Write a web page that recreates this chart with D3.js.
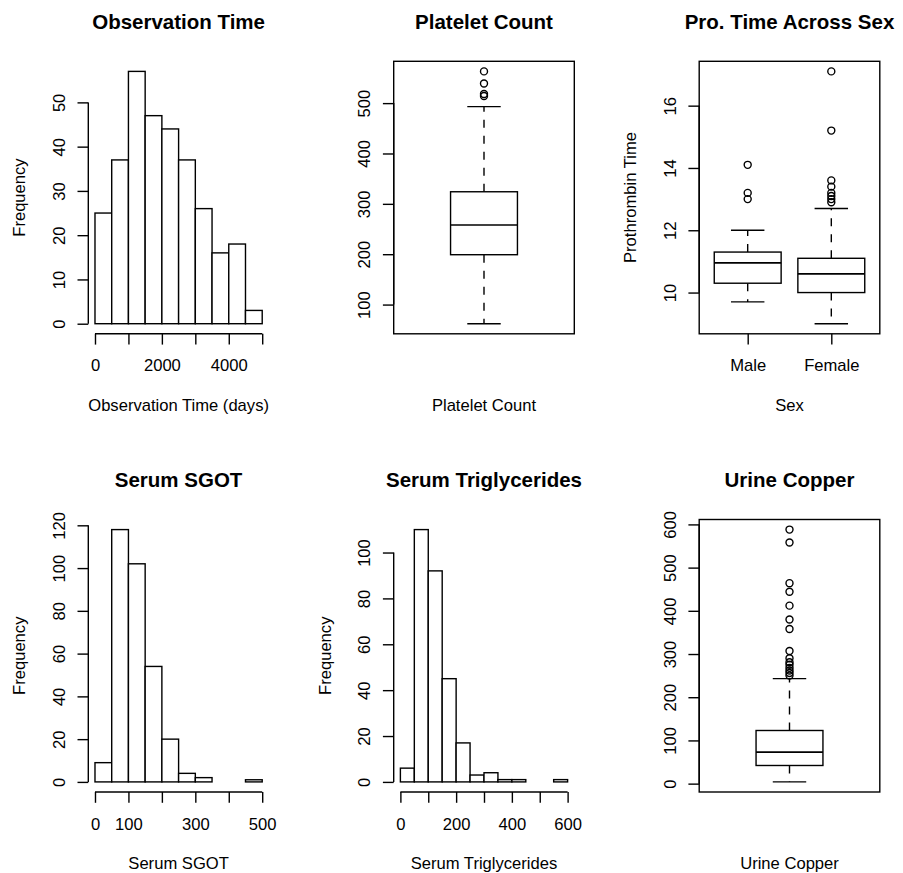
<!DOCTYPE html>
<html>
<head>
<meta charset="utf-8">
<script src="https://cdn.jsdelivr.net/npm/d3@7"></script>
<style>
  body { margin: 0; background: #fff; }
  svg { display: block; font-family: "Liberation Sans", Arial, Helvetica, sans-serif; }
  .main { font-weight: bold; font-size: 20.5px; }
  .lab { font-size: 16.6px; }
  .tick text { font-size: 16.6px; fill: #000; }
</style>
</head>
<body>
<svg id="chart" width="903" height="873"></svg>
<script>
// histogram data (break points + counts)
const obsTimeBreaks = [0, 500, 1000, 1500, 2000, 2500, 3000, 3500, 4000, 4500, 5000]
const obsTimeCounts = [25, 37, 57, 47, 44, 37, 26, 16, 18, 3]
const obsTimeXTicks = [0, 1000, 2000, 3000, 4000, 5000]
const obsTimeXLabels = [0, 2000, 4000]
const obsTimeYTicks = [0, 10, 20, 30, 40, 50]

const sgotBreaks = [0, 50, 100, 150, 200, 250, 300, 350, 400, 450, 500]
const sgotCounts = [9, 118, 102, 54, 20, 4, 2, 0, 0, 1]
const sgotXTicks = [0, 100, 200, 300, 400, 500]
const sgotXLabels = [0, 100, 300, 500]
const sgotYTicks = [0, 20, 40, 60, 80, 100, 120]

const trigBreaks = [0, 50, 100, 150, 200, 250, 300, 350, 400, 450, 500, 550, 600]
const trigCounts = [6, 110, 92, 45, 17, 3, 4, 1, 1, 0, 0, 1]
const trigXTicks = [0, 100, 200, 300, 400, 500, 600]
const trigXLabels = [0, 200, 400, 600]
const trigYTicks = [0, 20, 40, 60, 80, 100]

// boxplot data: [lower whisker, Q1, median, Q3, upper whisker]
const plateletStats = [62, 199, 258, 324, 493]
const plateletOut = [514, 518, 539, 563]
const plateletYTicks = [100, 200, 300, 400, 500]

const sexGroups = ["Male", "Female"]
const proTimeStats = [[9.7, 10.3, 10.95, 11.3, 12.0], [9.0, 10.0, 10.6, 11.1, 12.7]]
const proTimeOut = [[13.0, 13.2, 14.1], [12.9, 13.0, 13.1, 13.2, 13.4, 13.6, 15.2, 17.1]]
const proTimeYTicks = [10, 12, 14, 16]

const copperStats = [4, 42, 73, 123, 243]
const copperOut = [250, 256, 262, 268, 275, 281, 290, 307, 358, 380, 412, 444, 464, 558, 588]
const copperYTicks = [0, 100, 200, 300, 400, 500, 600]

let svg = d3.select("#chart")

// plot regions
let colLeft = [88.3, 393.7, 699.2]
let rowTop = [61.3, 519.5]
let pw = 180.6, ph = 272.5
let tickLen = 10.8
let lw = 1.4

// R style 4% axis extension
function ext(lo, hi) {
  let d = (hi - lo) * 0.04
  return [lo - d, hi + d]
}

function yAxis(g, y, ticks, left) {
  let ax = g.append("g")
    .attr("transform", `translate(${left},0)`)
    .call(d3.axisLeft(y).tickValues(ticks).tickSize(tickLen).tickFormat(d3.format("d")))
  ax.select(".domain").remove()
  ax.selectAll("line").attr("stroke-width", lw)
  ax.selectAll("text")
    .attr("x", 0).attr("dy", null)
    .attr("text-anchor", "middle")
    .attr("transform", "translate(-23.3,0) rotate(-90)")
  ax.append("line")
    .attr("y1", y(ticks[0])).attr("y2", y(ticks[ticks.length - 1]))
    .attr("stroke", "#000").attr("stroke-width", lw)
}

function xAxis(g, x, ticks, labels, bottom, line) {
  let ax = g.append("g")
    .attr("transform", `translate(0,${bottom})`)
    .call(d3.axisBottom(x).tickValues(ticks).tickSize(tickLen)
      .tickFormat((d, i) => labels[i] == null ? "" : labels[i]))
  ax.select(".domain").remove()
  ax.selectAll("line").attr("stroke-width", lw)
  ax.selectAll("text").attr("y", 37.6).attr("dy", null)
  if (line) {
    ax.append("line")
      .attr("x1", x(ticks[0])).attr("x2", x(ticks[ticks.length - 1]))
      .attr("stroke", "#000").attr("stroke-width", lw)
  }
}

function labels(left, top, title, xlab, ylab) {
  let g = svg.append("g")
  g.append("text").attr("class", "main")
    .attr("x", left + pw / 2).attr("y", top - 32.5)
    .attr("text-anchor", "middle").text(title)
  g.append("text").attr("class", "lab")
    .attr("x", left + pw / 2).attr("y", top + ph + 77)
    .attr("text-anchor", "middle").text(xlab)
  if (ylab) {
    g.append("text").attr("class", "lab")
      .attr("transform", `translate(${left - 63},${top + ph / 2}) rotate(-90)`)
      .attr("text-anchor", "middle").text(ylab)
  }
}

function histogram(col, row, breaks, counts, xTicks, xLabels, yTicks, title, xlab) {
  let left = colLeft[col], top = rowTop[row]
  let g = svg.append("g")
  let x = d3.scaleLinear()
    .domain(ext(breaks[0], breaks[breaks.length - 1]))
    .range([left, left + pw])
  let y = d3.scaleLinear()
    .domain(ext(0, d3.max(counts)))
    .range([top + ph, top])

  let bins = counts.map((c, i) => ({ x0: breaks[i], x1: breaks[i + 1], n: c }))
  g.selectAll("rect")
    .data(bins)
    .join("rect")
    .attr("x", d => x(d.x0))
    .attr("width", d => x(d.x1) - x(d.x0))
    .attr("y", d => y(d.n))
    .attr("height", d => y(0) - y(d.n))
    .attr("fill", "#fff")
    .attr("stroke", "#000")
    .attr("stroke-width", lw)

  let lab = xTicks.map(t => xLabels.includes(t) ? t : null)
  xAxis(g, x, xTicks, lab, top + ph, true)
  yAxis(g, y, yTicks, left)
  labels(left, top, title, xlab, "Frequency")
}

function boxplot(col, row, stats, outs, names, yTicks, title, xlab, ylab) {
  let left = colLeft[col], top = rowTop[row]
  let n = stats.length
  let g = svg.append("g")
  let allVals = stats.flat().concat(outs.flat())
  let x = d3.scaleLinear().domain(ext(0.5, n + 0.5)).range([left, left + pw])
  let y = d3.scaleLinear().domain(ext(d3.min(allVals), d3.max(allVals))).range([top + ph, top])
  let bw = n == 1 ? 0.4 : 0.8

  stats.forEach((s, i) => {
    let c = i + 1
    let bx = g.append("g")
    // whiskers
    bx.append("line")
      .attr("x1", x(c)).attr("x2", x(c))
      .attr("y1", y(s[3])).attr("y2", y(s[4]))
      .attr("stroke", "#000").attr("stroke-width", lw).attr("stroke-dasharray", "8,8")
    bx.append("line")
      .attr("x1", x(c)).attr("x2", x(c))
      .attr("y1", y(s[1])).attr("y2", y(s[0]))
      .attr("stroke", "#000").attr("stroke-width", lw).attr("stroke-dasharray", "8,8")
    // staples
    ;[s[0], s[4]].forEach(v => {
      bx.append("line")
        .attr("x1", x(c - bw / 4)).attr("x2", x(c + bw / 4))
        .attr("y1", y(v)).attr("y2", y(v))
        .attr("stroke", "#000").attr("stroke-width", lw)
    })
    bx.append("rect")
      .attr("x", x(c - bw / 2))
      .attr("width", x(c + bw / 2) - x(c - bw / 2))
      .attr("y", y(s[3]))
      .attr("height", y(s[1]) - y(s[3]))
      .attr("fill", "#fff")
      .attr("stroke", "#000").attr("stroke-width", lw)
    bx.append("line")
      .attr("x1", x(c - bw / 2)).attr("x2", x(c + bw / 2))
      .attr("y1", y(s[2])).attr("y2", y(s[2]))
      .attr("stroke", "#000").attr("stroke-width", lw * 1.2)
    bx.selectAll("circle")
      .data(outs[i])
      .join("circle")
      .attr("cx", x(c))
      .attr("cy", d => y(d))
      .attr("r", 3.5)
      .attr("fill", "none")
      .attr("stroke", "#000").attr("stroke-width", lw)
  })

  g.append("rect")
    .attr("x", left).attr("y", top).attr("width", pw).attr("height", ph)
    .attr("fill", "none").attr("stroke", "#000").attr("stroke-width", lw)

  if (names) {
    xAxis(g, x, names.map((d, i) => i + 1), names, top + ph, false)
  }
  yAxis(g, y, yTicks, left)
  labels(left, top, title, xlab, ylab)
}

histogram(0, 0, obsTimeBreaks, obsTimeCounts, obsTimeXTicks, obsTimeXLabels, obsTimeYTicks,
  "Observation Time", "Observation Time (days)")
boxplot(1, 0, [plateletStats], [plateletOut], null, plateletYTicks,
  "Platelet Count", "Platelet Count", null)
boxplot(2, 0, proTimeStats, proTimeOut, sexGroups, proTimeYTicks,
  "Pro. Time Across Sex", "Sex", "Prothrombin Time")
histogram(0, 1, sgotBreaks, sgotCounts, sgotXTicks, sgotXLabels, sgotYTicks,
  "Serum SGOT", "Serum SGOT")
histogram(1, 1, trigBreaks, trigCounts, trigXTicks, trigXLabels, trigYTicks,
  "Serum Triglycerides", "Serum Triglycerides")
boxplot(2, 1, [copperStats], [copperOut], null, copperYTicks,
  "Urine Copper", "Urine Copper", null)
</script>
</body>
</html>
